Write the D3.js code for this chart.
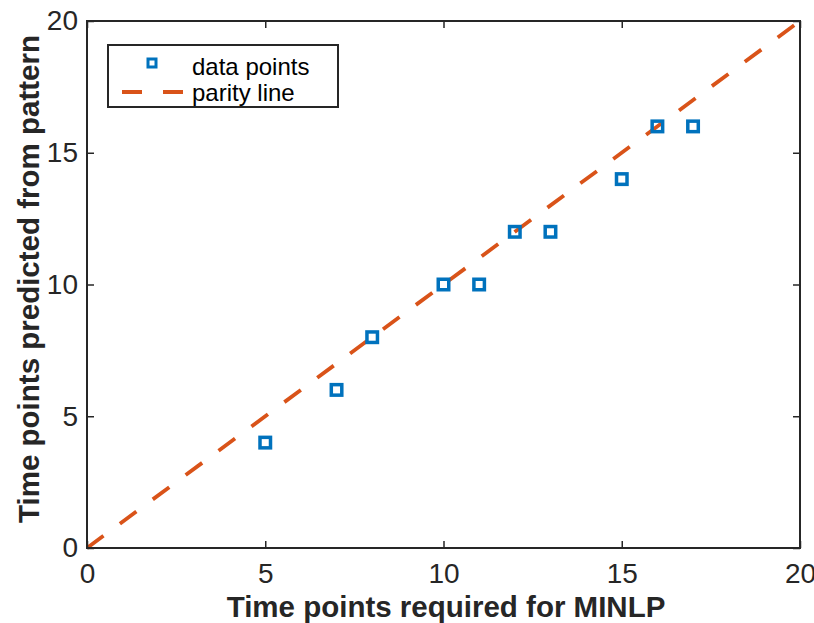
<!DOCTYPE html>
<html>
<head>
<meta charset="utf-8">
<script src="https://cdn.jsdelivr.net/npm/d3@7"></script>
<style>
  body { margin: 0; background: #fff; }
  svg { font-family: "Liberation Sans", Arial, sans-serif; }
</style>
</head>
<body>
<svg width="814" height="623"></svg>
<script>
const requiredTimes = [5, 7, 8, 10, 11, 12, 13, 15, 16, 17];
const predictedTimes = [4, 6, 8, 10, 10, 12, 12, 14, 16, 16];
const parityLine = [0, 20];
const tickValues = [0, 5, 10, 15, 20];

const svg = d3.select('svg');
const margin = { left: 87, right: 14, top: 21, bottom: 75 };
const width = +svg.attr('width');
const height = +svg.attr('height');

const x = d3.scaleLinear().domain([0, 20]).range([margin.left, width - margin.right]);
const y = d3.scaleLinear().domain([0, 20]).range([height - margin.bottom, margin.top]);

const blue = '#0072BD';
const orange = '#D95319';
const axisColor = '#262626';

// parity line
svg.append('line')
    .attr('x1', x(parityLine[0])).attr('y1', y(parityLine[0]))
    .attr('x2', x(parityLine[1])).attr('y2', y(parityLine[1]))
    .attr('stroke', orange)
    .attr('stroke-width', 3.8)
    .attr('stroke-dasharray', '20.5,20.4');

// data points
svg.selectAll('rect.pt')
    .data(requiredTimes)
    .enter().append('rect')
    .attr('class', 'pt')
    .attr('x', (d, i) => x(d) - 5.25)
    .attr('y', (d, i) => y(predictedTimes[i]) - 5.25)
    .attr('width', 10.5)
    .attr('height', 10.5)
    .attr('fill', 'none')
    .attr('stroke', blue)
    .attr('stroke-width', 3.5);

// axes with inward ticks
const tickLen = 7;
function styleAxis(g) {
    g.select('.domain').remove();
    g.selectAll('line').attr('stroke', axisColor).attr('stroke-width', 1.5);
    g.selectAll('text').attr('fill', axisColor).attr('font-size', '28px');
}

svg.append('g')
    .attr('transform', `translate(0,${y(0)})`)
    .call(d3.axisBottom(x).tickValues(tickValues).tickSize(-tickLen).tickPadding(15))
    .call(styleAxis);
svg.append('g')
    .attr('transform', `translate(0,${y(20)})`)
    .call(d3.axisTop(x).tickValues(tickValues).tickSize(-tickLen).tickFormat(''))
    .call(styleAxis);
svg.append('g')
    .attr('transform', `translate(${x(0)},0)`)
    .call(d3.axisLeft(y).tickValues(tickValues).tickSize(-tickLen).tickPadding(9))
    .call(styleAxis);
svg.append('g')
    .attr('transform', `translate(${x(20)},0)`)
    .call(d3.axisRight(y).tickValues(tickValues).tickSize(-tickLen).tickFormat(''))
    .call(styleAxis);

// box
svg.append('rect')
    .attr('x', x(0)).attr('y', y(20))
    .attr('width', x(20) - x(0)).attr('height', y(0) - y(20))
    .attr('fill', 'none')
    .attr('stroke', axisColor)
    .attr('stroke-width', 2);

// axis labels
svg.append('text')
    .attr('x', 446)
    .attr('y', 617)
    .attr('text-anchor', 'middle')
    .attr('font-weight', 'bold')
    .attr('font-size', '29.5px')
    .attr('fill', axisColor)
    .text('Time points required for MINLP');

svg.append('text')
    .attr('transform', 'translate(39,279) rotate(-90)')
    .attr('text-anchor', 'middle')
    .attr('font-weight', 'bold')
    .attr('font-size', '29.5px')
    .attr('fill', axisColor)
    .text('Time points predicted from pattern');

// legend
const legend = svg.append('g');
legend.append('rect')
    .attr('x', 108).attr('y', 45)
    .attr('width', 230).attr('height', 62)
    .attr('fill', '#fff')
    .attr('stroke', axisColor)
    .attr('stroke-width', 2);
legend.append('rect')
    .attr('x', 148).attr('y', 59)
    .attr('width', 8).attr('height', 8)
    .attr('fill', 'none')
    .attr('stroke', blue)
    .attr('stroke-width', 3);
legend.append('line')
    .attr('x1', 122).attr('y1', 92)
    .attr('x2', 183).attr('y2', 92)
    .attr('stroke', orange)
    .attr('stroke-width', 3.8)
    .attr('stroke-dasharray', '20,21');
legend.append('text')
    .attr('x', 192).attr('y', 75)
    .attr('font-size', '24px')
    .attr('fill', '#000')
    .text('data points');
legend.append('text')
    .attr('x', 192).attr('y', 101)
    .attr('font-size', '24px')
    .attr('fill', '#000')
    .text('parity line');
</script>
</body>
</html>
